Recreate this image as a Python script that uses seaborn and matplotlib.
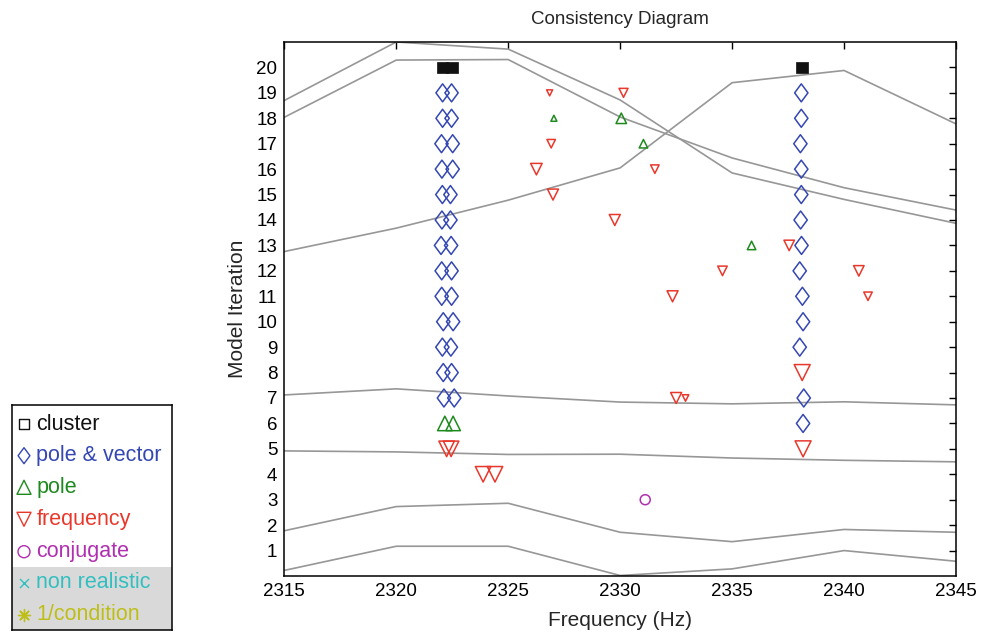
import numpy as np
import matplotlib
matplotlib.use("Agg")
import matplotlib.pyplot as plt
from matplotlib.path import Path
import seaborn as sns

# ---------------- data ----------------
freq_grid = [2315, 2320, 2325, 2330, 2335, 2340, 2345]
curve_1 = [18.70, 21.00, 20.72, 18.72, 15.85, 14.81, 13.87]
curve_2 = [18.04, 20.29, 20.31, 18.05, 16.44, 15.27, 14.39]
curve_3 = [12.76, 13.68, 14.78, 16.05, 19.40, 19.88, 17.78]
curve_4 = [7.12, 7.36, 7.08, 6.84, 6.77, 6.85, 6.73]
curve_5 = [4.92, 4.88, 4.78, 4.79, 4.64, 4.55, 4.49]
curve_6 = [1.78, 2.73, 2.86, 1.72, 1.35, 1.83, 1.72]
curve_7 = [0.22, 1.17, 1.17, 0.02, 0.28, 1.00, 0.58]

cluster_freq = [2322.07, 2322.50, 2338.13]
cluster_iter = [20, 20, 20]

pv_freq = [2322.07, 2322.47, 2322.07, 2322.47, 2322.02, 2322.52, 2322.04, 2322.52,
           2322.06, 2322.42, 2322.04, 2322.42, 2322.00, 2322.45, 2322.03, 2322.47,
           2322.03, 2322.47, 2322.10, 2322.54, 2322.06, 2322.44, 2322.10, 2322.47,
           2322.13, 2322.59,
           2338.09, 2338.09, 2338.05, 2338.09, 2338.09, 2338.06, 2338.10, 2338.02,
           2338.14, 2338.17, 2338.02, 2338.20, 2338.17]
pv_iter = [19, 19, 18, 18, 17, 17, 16, 16, 15, 15, 14, 14, 13, 13, 12, 12, 11, 11,
           10, 10, 9, 9, 8, 8, 7, 7,
           19, 18, 17, 16, 15, 14, 13, 12, 11, 10, 9, 7, 6]

pole_freq = [2322.17, 2322.54, 2327.04, 2330.05, 2331.04, 2335.87]
pole_iter = [6, 6, 18, 18, 17, 13]
pole_px = [14.5, 14.5, 6, 10.5, 8.5, 8.5]

freqm_freq = [2322.25, 2322.45, 2323.88, 2324.41, 2326.85, 2330.15, 2326.92,
              2326.26, 2331.55, 2327.00, 2329.76, 2337.55, 2334.57, 2340.66,
              2332.34, 2341.07, 2332.50, 2332.92, 2338.13, 2338.17]
freqm_iter = [5, 5, 4, 4, 19, 19, 17, 16, 16, 15, 14, 13, 12, 12, 11, 11, 7, 7, 8, 5]
freqm_px = [15.5, 15.5, 15.5, 15.5, 6, 9, 8.5, 11.5, 8.5, 11, 11, 10.5, 9.5, 10.5,
            11, 8.5, 11, 6.5, 16, 16]

conj_freq = [2331.12]
conj_iter = [3]

x_ticks = [2315, 2320, 2325, 2330, 2335, 2340, 2345]
y_ticks = list(range(1, 21))

legend_labels = ["cluster", "pole & vector", "pole", "frequency", "conjugate",
                 "non realistic", "1/condition"]

# ---------------- style ----------------
sns.set_style("white")
plt.rcParams["font.family"] = ["Liberation Sans", "DejaVu Sans"]

C_BLACK = "#111111"
C_BLUE = "#3447B2"
C_GREEN = "#1E8A1E"
C_RED = "#E8382C"
C_MAG = "#B02FB0"
C_CYAN = "#33BFC0"
C_OLIVE = "#BEBE18"
C_GRAY = "#979797"

diamond = Path([(0, 1), (0.74, 0), (0, -1), (-0.74, 0), (0, 1)],
               [Path.MOVETO, Path.LINETO, Path.LINETO, Path.LINETO, Path.CLOSEPOLY])

W, H = 995, 632
fig = plt.figure(figsize=(W / 100, H / 100), dpi=100)
ax = fig.add_axes([284.3 / W, 56 / H, 671.7 / W, 534 / H])


def px2s(p):
    return (np.asarray(p, dtype=float) * 0.72) ** 2


for c in [curve_1, curve_2, curve_3, curve_4, curve_5, curve_6, curve_7]:
    sns.lineplot(x=freq_grid, y=c, color=C_GRAY, linewidth=1.2, ax=ax,
                 sort=False, legend=False)

sns.scatterplot(x=cluster_freq, y=cluster_iter, marker="s", s=px2s([11.5] * 3),
                color=C_BLACK, edgecolor=C_BLACK, linewidth=0.5, ax=ax, legend=False,
                zorder=5)
sns.scatterplot(x=pv_freq, y=pv_iter, marker=diamond, s=px2s([18] * len(pv_freq)),
                facecolor="none", edgecolor=C_BLUE, linewidth=1.1, ax=ax,
                legend=False, zorder=5)
sns.scatterplot(x=pole_freq, y=pole_iter, marker="^", s=px2s(pole_px),
                facecolor="none", edgecolor=C_GREEN, linewidth=1.1, ax=ax,
                legend=False, zorder=5)
sns.scatterplot(x=freqm_freq, y=freqm_iter, marker="v", s=px2s(freqm_px),
                facecolor="none", edgecolor=C_RED, linewidth=1.1, ax=ax,
                legend=False, zorder=5)
sns.scatterplot(x=conj_freq, y=conj_iter, marker="o", s=px2s([10]),
                facecolor="none", edgecolor=C_MAG, linewidth=1.1, ax=ax,
                legend=False, zorder=5)

ax.set_xlim(2315, 2345)
ax.set_ylim(0, 21)
ax.set_xticks(x_ticks)
ax.set_xticklabels([str(t) for t in x_ticks])
ax.set_yticks(y_ticks)
ax.set_yticklabels([str(t) for t in y_ticks])
ax.tick_params(direction="in", length=5, width=1.0, top=True, right=True,
               labelsize=13.5, colors="black", pad=5)
for sp in ax.spines.values():
    sp.set_visible(True)
    sp.set_color("black")
    sp.set_linewidth(1.1)
ax.set_title("Consistency Diagram", fontsize=13.5, pad=13)
ax.set_xlabel("Frequency (Hz)", fontsize=15, labelpad=8)
ax.set_ylabel("Model Iteration", fontsize=15, labelpad=7)

# ---------------- legend box ----------------
lax = fig.add_axes([12.3 / W, 2 / H, 159.4 / W, 225 / H])
lax.set_xlim(0, 159.4)
lax.set_ylim(225, 0)
lax.set_xticks([])
lax.set_yticks([])
for sp in lax.spines.values():
    sp.set_visible(True)
    sp.set_color("black")
    sp.set_linewidth(1.1)
lax.axhspan(161.7, 225, color="#D9D9D9", lw=0, zorder=0)

row_y = [19, 50.7, 82.3, 114.3, 146.7, 177.7, 210]
leg_colors = [C_BLACK, C_BLUE, C_GREEN, C_RED, C_MAG, C_CYAN, C_OLIVE]
leg_markers = ["s", diamond, "^", "v", "o", "x", (8, 2, 0)]
leg_px = [10, 16, 14, 14, 12, 9, 12]
for i, lab in enumerate(legend_labels):
    m = leg_markers[i]
    if m in ("x",) or isinstance(m, tuple):
        sns.scatterplot(x=[11.7], y=[row_y[i]], marker=m, s=px2s([leg_px[i]]),
                        color=leg_colors[i], linewidth=1.0, ax=lax, legend=False,
                        clip_on=False)
    else:
        sns.scatterplot(x=[11.7], y=[row_y[i]], marker=m, s=px2s([leg_px[i]]),
                        facecolor="none", edgecolor=leg_colors[i], linewidth=1.0,
                        ax=lax, legend=False, clip_on=False)
    lax.text(24, row_y[i], lab, color=leg_colors[i], fontsize=15.5,
             va="center", ha="left")
lax.set_xlabel("")
lax.set_ylabel("")

fig.savefig("out.png", dpi=100)
